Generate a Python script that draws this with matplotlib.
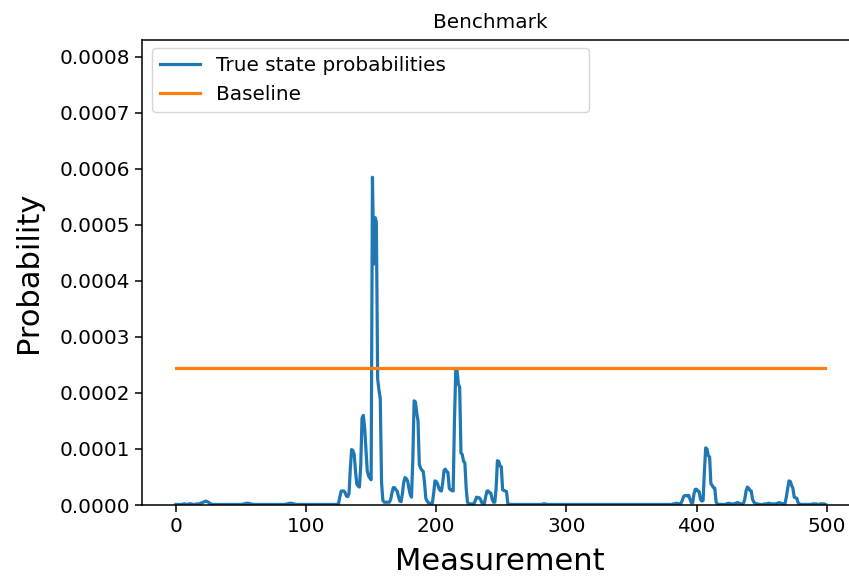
import numpy as np
import matplotlib.pyplot as plt

true_probs_e6 = [
    1, 1, 1, 1, 1, 1, 2, 2, 1, 1, 2, 2, 2, 1, 1, 1, 2, 2, 2, 3,
    4, 5, 6, 7, 6, 5, 3, 2, 1, 1, 1, 1, 1, 1, 1, 1, 1, 1, 1, 1,
    1, 1, 1, 1, 1, 1, 1, 1, 1, 1, 1, 1, 2, 2, 3, 3, 3, 2, 2, 1,
    1, 1, 1, 1, 1, 1, 1, 1, 1, 1, 1, 1, 1, 1, 1, 1, 1, 1, 1, 1,
    1, 1, 1, 1, 1, 2, 2, 3, 3, 3, 2, 2, 1, 1, 1, 1, 1, 1, 1, 1,
    1, 1, 1, 1, 1, 1, 1, 1, 1, 1, 1, 1, 1, 1, 1, 1, 1, 1, 1, 1,
    1, 1, 1, 1, 1, 3, 15, 25, 25, 25, 22, 16, 15, 20, 65, 99, 97, 90, 60, 37,
    34, 32, 70, 155, 160, 138, 100, 61, 52, 48, 45, 585, 430, 513, 505, 225, 205, 190, 40, 8,
    5, 5, 5, 5, 5, 10, 22, 31, 31, 27, 25, 15, 7, 6, 20, 40, 49, 47, 43, 30,
    19, 14, 80, 186, 184, 165, 150, 72, 66, 62, 60, 40, 12, 7, 4, 3, 3, 3, 20, 43,
    42, 38, 30, 26, 25, 40, 62, 64, 60, 58, 30, 27, 26, 25, 150, 242, 240, 216, 210, 93,
    90, 78, 75, 30, 5, 2, 2, 2, 2, 2, 8, 14, 13, 13, 10, 4, 3, 3, 15, 25,
    25, 22, 21, 10, 5, 5, 30, 79, 78, 70, 68, 27, 26, 25, 24, 2, 1, 1, 1, 1,
    1, 1, 1, 1, 1, 1, 1, 1, 1, 1, 1, 1, 1, 1, 1, 1, 1, 1, 1, 1,
    1, 1, 2, 2, 2, 1, 1, 1, 1, 1, 1, 1, 1, 1, 1, 1, 1, 1, 1, 1,
    1, 1, 1, 1, 1, 1, 1, 1, 1, 1, 1, 1, 1, 1, 1, 1, 1, 1, 1, 1,
    1, 1, 1, 1, 1, 1, 1, 1, 1, 1, 1, 1, 1, 1, 1, 1, 1, 1, 1, 1,
    1, 1, 1, 1, 1, 1, 1, 1, 1, 1, 1, 1, 1, 1, 1, 1, 1, 1, 1, 1,
    1, 1, 1, 1, 1, 1, 1, 1, 1, 1, 1, 1, 1, 1, 1, 1, 1, 1, 1, 1,
    1, 1, 2, 2, 3, 3, 2, 2, 3, 8, 15, 17, 17, 16, 17, 10, 4, 4, 20, 28,
    28, 25, 24, 10, 7, 8, 60, 102, 100, 88, 86, 38, 35, 31, 30, 5, 2, 1, 1, 1,
    1, 1, 1, 2, 3, 3, 2, 2, 2, 2, 3, 4, 4, 3, 2, 2, 3, 10, 25, 32,
    30, 26, 25, 10, 5, 3, 2, 2, 1, 1, 1, 1, 2, 2, 2, 3, 3, 2, 2, 2,
    2, 2, 3, 4, 4, 3, 2, 2, 3, 15, 30, 43, 42, 35, 30, 14, 13, 12, 4, 2,
    1, 1, 1, 1, 1, 1, 1, 1, 1, 2, 2, 2, 2, 1, 1, 2, 2, 2, 2, 1,
]
true_probs = np.array(true_probs_e6) * 1e-6
measurements = np.arange(len(true_probs))
baseline = np.full(len(true_probs), 1 / 4096)  # uniform over 2^12 states

plt.rcParams['font.size'] = 14.4

fig = plt.figure(figsize=(8.49, 5.8), dpi=100)
ax = fig.add_axes([0.1673, 0.1293, 0.8433, 0.8017])
ax.plot(measurements, true_probs, color='#1f77b4', lw=2.3, label='True state probabilities')
ax.plot(measurements, baseline, color='#ff7f0e', lw=2.3, label='Baseline')

ax.set_xlim(-26, 524)
ax.set_ylim(0, 0.00083)
ax.set_yticks(np.arange(0, 0.00081, 0.0001))
ax.yaxis.set_major_formatter(plt.FormatStrFormatter('%.4f'))
ax.tick_params(length=5, width=1.1)
for s in ax.spines.values():
    s.set_linewidth(1.1)
ax.spines['right'].set_visible(False)  # cut off in the original image

ax.set_title('Benchmark', fontsize=14.4, x=0.487, pad=9)
ax.set_xlabel('Measurement', fontsize=22, labelpad=8)
ax.set_ylabel('Probability', fontsize=22, labelpad=12)
ax.legend(loc='upper left', bbox_to_anchor=(0.014, 0.982, 0.61, 0), mode='expand',
          fontsize=14.4, borderaxespad=0)

fig.savefig('out.png', dpi=100)
